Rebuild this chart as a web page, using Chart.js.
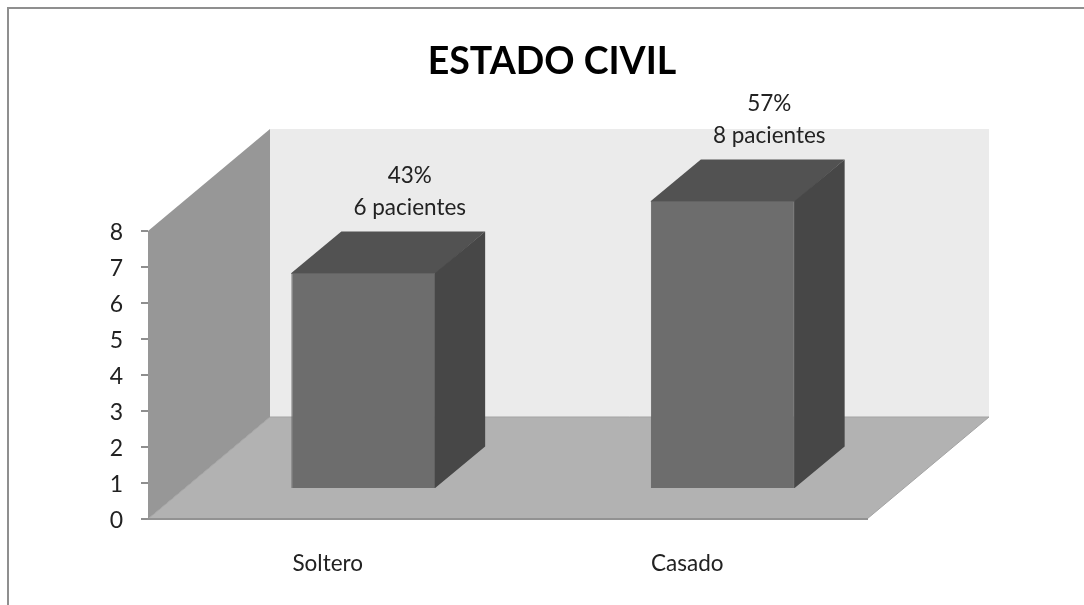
<!DOCTYPE html>
<html lang="es">
<head>
<meta charset="utf-8">
<title>Estado civil</title>
<script src="https://cdn.jsdelivr.net/npm/chart.js@4/dist/chart.umd.min.js"></script>
<style>
    html, body { margin: 0; padding: 0; background: #fff; }
    canvas { display: block; }
</style>
</head>
<body>
<canvas id="estadoChart" width="1084" height="605"></canvas>
<script>
const categories = ['Soltero', 'Casado'];
const pacientes = [6, 8];
const porcentajes = [43, 57];
const yTicks = ['0', '1', '2', '3', '4', '5', '6', '7', '8'];

// 3D look: how far the box walls and the bars go back, in pixels
const wallDepth = { x: 122, y: -102 };
const barOffset = { x: 35.5, y: -30 };
const barDepth = { x: 50, y: -41.5 };

const fillPoly = (ctx, color, points) => {
    ctx.fillStyle = color;
    ctx.beginPath();
    points.forEach(([x, y], i) => (i ? ctx.lineTo(x, y) : ctx.moveTo(x, y)));
    ctx.closePath();
    ctx.fill();
};

const box3d = {
    id: 'box3d',
    afterLayout(chart) {
        // title is centred on the whole box, not on the front plane
        chart.titleBlock.left += 118.5;
        chart.titleBlock.right += 118.5;
    },
    beforeDraw(chart) {
        const { ctx, chartArea: { left, right, top, bottom } } = chart;
        const dx = wallDepth.x;
        const dy = wallDepth.y;

        // outer frame, only top and left are inside the picture
        ctx.save();
        ctx.strokeStyle = '#8f8f8f';
        ctx.lineWidth = 2;
        ctx.strokeRect(8, 8, 2000, 2000);

        fillPoly(ctx, '#ebebeb', [[left + dx, top + dy], [right + dx, top + dy], [right + dx, bottom + dy], [left + dx, bottom + dy]]);
        fillPoly(ctx, '#979797', [[left, top], [left + dx, top + dy], [left + dx, bottom + dy], [left, bottom]]);
        fillPoly(ctx, '#b2b2b2', [[left, bottom], [left + dx, bottom + dy], [right + dx, bottom + dy], [right, bottom]]);

        ctx.strokeStyle = '#a3a3a3';
        ctx.lineWidth = 1;
        ctx.beginPath();
        ctx.moveTo(left + dx, bottom + dy);
        ctx.lineTo(right + dx, bottom + dy);
        ctx.moveTo(right + dx, bottom + dy);
        ctx.lineTo(right, bottom);
        ctx.moveTo(left + dx, bottom + dy);
        ctx.lineTo(left, bottom);
        ctx.stroke();
        ctx.restore();
    },
    beforeDatasetDraw(chart, args) {
        const { ctx } = chart;
        ctx.save();
        ctx.translate(barOffset.x, barOffset.y);
        args.meta.data.forEach(bar => {
            const x0 = bar.x - bar.width / 2;
            const x1 = bar.x + bar.width / 2;
            const dx = barDepth.x;
            const dy = barDepth.y;
            // faces run 1px under the front rectangle so no gap shows
            fillPoly(ctx, '#525252', [[x0, bar.y + 1], [x0, bar.y], [x0 + dx, bar.y + dy], [x1 + dx, bar.y + dy], [x1, bar.y + 1]]);
            fillPoly(ctx, '#474747', [[x1 - 1, bar.y], [x1, bar.y], [x1 + dx, bar.y + dy], [x1 + dx, bar.base + dy], [x1, bar.base], [x1 - 1, bar.base]]);
        });
    },
    afterDatasetDraw(chart) {
        chart.ctx.restore();
    },
    afterDatasetsDraw(chart) {
        const { ctx } = chart;
        ctx.save();
        ctx.font = '22.5px Lato';
        ctx.fillStyle = '#222';
        ctx.textAlign = 'center';
        ctx.textBaseline = 'middle';
        chart.getDatasetMeta(0).data.forEach((bar, i) => {
            const x = bar.x + barOffset.x + 46.5;
            const y = bar.y + barOffset.y;
            ctx.fillText(`${porcentajes[i]}%`, x, y - 97);
            ctx.fillText(`${pacientes[i]} pacientes`, x, y - 65);
        });
        ctx.restore();
    }
};

const ctx = document.getElementById('estadoChart').getContext('2d');
new Chart(ctx, {
    type: 'bar',
    data: {
        labels: categories,
        datasets: [
            {
                label: 'Pacientes',
                data: pacientes,
                backgroundColor: '#6d6d6d',
                borderColor: '#636363',
                borderWidth: 1,
                barPercentage: 0.4,
                categoryPercentage: 1,
                clip: false
            }
        ]
    },
    options: {
        responsive: false,
        animation: false,
        layout: { padding: { right: 217 } },
        scales: {
            x: {
                afterFit: scale => { scale.height = 86; },
                grid: { display: false },
                border: { color: '#929292', width: 2 },
                ticks: { color: '#222', padding: 23, font: { family: 'Lato', size: 22.5 } }
            },
            y: {
                min: 0,
                max: 8,
                afterFit: scale => { scale.width = 148; },
                grid: { drawOnChartArea: false, color: '#8f8f8f', lineWidth: 2, tickLength: 7 },
                border: { display: false },
                ticks: {
                    stepSize: 1,
                    color: '#222',
                    padding: 18,
                    labelOffset: 2,
                    font: { family: 'Lato', size: 23 },
                    callback: value => yTicks[value]
                }
            }
        },
        plugins: {
            legend: { display: false },
            tooltip: { enabled: false },
            title: {
                display: true,
                text: 'ESTADO CIVIL',
                color: '#000',
                font: { family: 'Lato', size: 37.5, weight: 'bold', lineHeight: 1 },
                padding: { top: 43, bottom: 150.5 }
            }
        }
    },
    plugins: [box3d]
});
</script>
</body>
</html>
